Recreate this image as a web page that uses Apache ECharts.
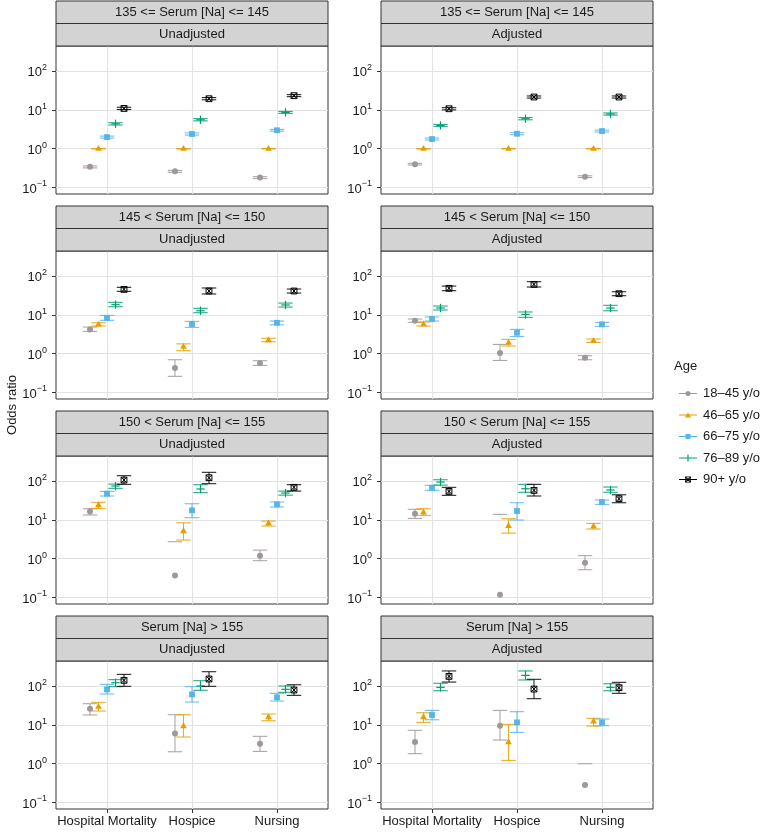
<!DOCTYPE html>
<html>
<head>
<meta charset="utf-8">
<script src="https://cdn.jsdelivr.net/npm/echarts@6/dist/echarts.min.js"></script>
<style>
html, body { margin: 0; padding: 0; background: #fff; }
#chart { width: 761px; height: 832px; }
</style>
</head>
<body>
<div id="chart"></div>
<script>
const categories = ['Hospital Mortality', 'Hospice', 'Nursing']
const ageGroups = ['18–45 y/o', '46–65 y/o', '66–75 y/o', '76–89 y/o', '90+ y/o']
const sodiumBands = ['135 <= Serum [Na] <= 145', '145 < Serum [Na] <= 150', '150 < Serum [Na] <= 155', 'Serum [Na] > 155']
const models = ['Unadjusted', 'Adjusted']
const yTickExponents = [-1, 0, 1, 2]

// one row per age group, one [OR, lower, upper] per outcome (null = not shown)
const na135Unadj = [
    [[0.34, 0.32, 0.36], [0.26, 0.245, 0.275], [0.18, 0.17, 0.19]],
    [[1, 1, 1], [1, 1, 1], [1, 1, 1]],
    [[2.0, 1.88, 2.12], [2.4, 2.25, 2.56], [3.0, 2.85, 3.16]],
    [[4.4, 4.1, 4.7], [5.6, 5.25, 6.0], [8.7, 8.2, 9.2]],
    [[11.0, 10.3, 11.8], [19.6, 18.4, 21.0], [23.5, 22.2, 25.0]]
]
const na135Adj = [
    [[0.40, 0.38, 0.42], null, [0.19, 0.18, 0.20]],
    [[1, 1, 1], [1, 1, 1], [1, 1, 1]],
    [[1.78, 1.68, 1.89], [2.44, 2.3, 2.6], [2.86, 2.7, 3.03]],
    [[4.0, 3.78, 4.25], [5.97, 5.6, 6.4], [7.9, 7.4, 8.4]],
    [[10.8, 10.1, 11.5], [21.7, 20.4, 23.1], [21.7, 20.4, 23.1]]
]
const na150Unadj = [
    [[4.26, 3.78, 4.9], [0.43, 0.26, 0.70], [0.57, 0.50, 0.66]],
    [[5.7, 5.2, 6.3], [1.52, 1.2, 1.8], [2.26, 2.04, 2.5]],
    [[8.4, 7.3, 9.8], [5.85, 4.8, 6.85], [6.3, 5.6, 7.0]],
    [[18.5, 16.4, 21.3], [12.9, 11.5, 14.9], [18.2, 16.1, 20.4]],
    [[46, 41, 52], [41.8, 35, 50], [41.8, 37, 47]]
]
const na150Adj = [
    [[7.1, 6.5, 7.9], [1.04, 0.67, 1.74], [0.79, 0.70, 0.89]],
    [[5.85, 5.2, 6.6], [1.92, 1.58, 2.35], [2.17, 1.96, 2.4]],
    [[7.9, 7.0, 8.9], [3.49, 2.8, 4.26], [5.74, 5.1, 6.46]],
    [[15.2, 13.5, 17.1], [10.4, 8.7, 12.0], [15.2, 12.9, 17.8]],
    [[49, 42.6, 56], [62, 53, 72.8], [35.6, 31.6, 40]]
]
const na155Unadj = [
    [[16.7, 13.5, 19.6], [0.37, null, 2.75], [1.2, 0.89, 1.67]],
    [[24.4, 20, 28.7], [5.2, 3.04, 8.5], [8.2, 7.0, 9.4]],
    [[48, 41.8, 55], [17.8, 11.5, 26.4], [25.4, 21.7, 29.2]],
    [[75.7, 66, 85], [63.4, 51, 82], [49.9, 44, 56]],
    [[108, 83.6, 140], [124, 87, 171], [70, 56, 82]]
]
const na155Adj = [
    [[14.6, 11.0, 18.9], [0.117, null, 14.0], [0.79, 0.52, 1.2]],
    [[15.8, 13.2, 19.6], [7.1, 4.6, 10.8], [6.86, 5.85, 8.2]],
    [[68.5, 58.5, 78.8], [17.1, 10, 28], [29.2, 25.4, 32.9]],
    [[96, 80, 110], [64.5, 52, 83.6], [59.7, 52, 71.3]],
    [[55, 43.5, 70], [58.5, 41.8, 83.6], [35.6, 28, 45]]
]
const naOver155Unadj = [
    [[26.4, 18.2, 35.6], [6.0, 2.04, 18.5], [3.29, 2.08, 5.1]],
    [[29.8, 23, 38.6], [9.4, 4.9, 18.5], [16.1, 12.9, 19.2]],
    [[83.6, 63.4, 112.6], [62, 39.4, 98], [52, 41.8, 66]],
    [[124, 98, 149], [102, 79, 140], [83.6, 70, 102]],
    [[143, 100, 204], [155, 100, 239], [80.4, 58.5, 110]]
]
const naOver155Adj = [
    [[3.63, 1.82, 7.3], [9.6, 4.1, 23.9], [0.28, null, 1.0]],
    [[16.1, 11.7, 20.8], [3.63, 1.22, 10.4], [12.4, 9.4, 14.9]],
    [[18.2, 13.7, 23.9], [11.7, 6.46, 22.1], [11.7, 9.6, 14.3]],
    [[94, 77, 120], [192, 146, 250], [94, 77, 117]],
    [[181, 129, 250], [85, 48, 152], [92.4, 66, 127]]
]

const panelData = [
    na135Unadj, na135Adj,
    na150Unadj, na150Adj,
    na155Unadj, na155Adj,
    naOver155Unadj, naOver155Adj
]

const colors = ['#A09898', '#E69F00', '#56B4E9', '#009E73', '#000000']
const dodge = [-0.2, -0.1, 0, 0.1, 0.2]
const font = '"Liberation Sans", Arial, sans-serif'

const colLeft = [56, 381]
const rowTop = [46, 251, 456, 661]
const panelW = 272
const panelH = 148
const stripH = 22.5

const legendIcons = [
    'path://M0,3H18V4H0Z M6.5,3.5A2.5,2.5 0 1 1 11.5,3.5A2.5,2.5 0 1 1 6.5,3.5Z',
    'path://M0,3.2H18V4.2H0Z M6,6.2L9,1L12,6.2Z',
    'path://M0,3H18V4H0Z M6.5,1H11.5V6H6.5Z',
    'path://M0,3H18V4H0Z M8.4,0H9.6V7H8.4Z',
    'path://M0,3H18V4H0Z M6,0.5H12V6.5H6Z M6.8,1.3V5.7H11.2V1.3Z M6.8,1.3L7.5,1.3L11.2,5L11.2,5.7L10.5,5.7L6.8,2Z M11.2,1.3V2L7.5,5.7H6.8V5L10.5,1.3Z'
]

function makeRenderer(shapeIndex) {
    return function (params, api) {
        const x = api.value(0)
        const y = api.value(1)
        const lo = api.value(2)
        const hi = api.value(3)
        const color = api.visual('color')
        const p = api.coord([x, y])
        const half = api.size([0.085, 0])[0]
        const children = []
        const ls = { stroke: color, lineWidth: 1.1, opacity: 0.85, fill: null }
        if (hi != null && !isNaN(hi)) {
            const ph = api.coord([x, hi])
            children.push({ type: 'line', shape: { x1: p[0] - half, y1: ph[1], x2: p[0] + half, y2: ph[1] }, style: ls })
            if (lo != null && !isNaN(lo)) {
                const pl = api.coord([x, lo])
                children.push({ type: 'line', shape: { x1: p[0], y1: ph[1], x2: p[0], y2: pl[1] }, style: ls })
                children.push({ type: 'line', shape: { x1: p[0] - half, y1: pl[1], x2: p[0] + half, y2: pl[1] }, style: ls })
            }
        }
        const cx = p[0]
        const cy = p[1]
        if (shapeIndex === 0) {
            children.push({ type: 'circle', shape: { cx: cx, cy: cy, r: 3 }, style: { fill: color } })
        } else if (shapeIndex === 1) {
            children.push({ type: 'polygon', shape: { points: [[cx, cy - 3.8], [cx + 3.4, cy + 2.1], [cx - 3.4, cy + 2.1]] }, style: { fill: color } })
        } else if (shapeIndex === 2) {
            children.push({ type: 'rect', shape: { x: cx - 2.9, y: cy - 2.9, width: 5.8, height: 5.8 }, style: { fill: color } })
        } else if (shapeIndex === 3) {
            const st = { stroke: color, lineWidth: 1.2 }
            children.push({ type: 'line', shape: { x1: cx - 4.2, y1: cy, x2: cx + 4.2, y2: cy }, style: st })
            children.push({ type: 'line', shape: { x1: cx, y1: cy - 4.2, x2: cx, y2: cy + 4.2 }, style: st })
        } else {
            const st = { stroke: color, lineWidth: 1, fill: null }
            children.push({ type: 'rect', shape: { x: cx - 2.9, y: cy - 2.9, width: 5.8, height: 5.8 }, style: st })
            children.push({ type: 'line', shape: { x1: cx - 2.9, y1: cy - 2.9, x2: cx + 2.9, y2: cy + 2.9 }, style: st })
            children.push({ type: 'line', shape: { x1: cx + 2.9, y1: cy - 2.9, x2: cx - 2.9, y2: cy + 2.9 }, style: st })
        }
        return { type: 'group', children: children }
    }
}

function expLabel(v) {
    if (Math.abs(v - Math.round(v)) > 1e-6) return ''
    const e = Math.round(v)
    return '{b|10}{s|' + (e < 0 ? '−' + (-e) : e) + '}'
}

const grids = []
const xAxes = []
const yAxes = []
const series = []
const graphics = []

panelData.forEach(function (rows, k) {
    const row = Math.floor(k / 2)
    const col = k % 2
    const left = colLeft[col]
    const top = rowTop[row]
    const isBottom = row === 3

    grids.push({
        left: left, top: top, width: panelW, height: panelH,
        show: true, borderColor: '#333', borderWidth: 1, backgroundColor: '#fff'
    })
    xAxes.push({
        type: 'value', gridIndex: k, min: 0.4, max: 3.6,
        minInterval: 1, maxInterval: 1,
        position: 'bottom',
        axisLine: { show: false, onZero: false },
        axisTick: { show: isBottom, length: 4, lineStyle: { color: '#333' }, customValues: [1, 2, 3] },
        axisLabel: {
            show: isBottom, margin: 6, fontSize: 13, color: '#1a1a1a', fontFamily: font,
            customValues: [1, 2, 3],
            formatter: function (v) {
                return Math.abs(v - Math.round(v)) < 1e-6 ? (categories[Math.round(v) - 1] || '') : ''
            }
        },
        splitLine: { show: true, lineStyle: { color: '#e3e3e3', width: 1.2 } }
    })
    yAxes.push({
        type: 'value', gridIndex: k, min: -1.17, max: 2.655,
        minInterval: 1, maxInterval: 1,
        position: 'left',
        axisLine: { show: false, onZero: false },
        axisTick: { show: true, length: 4, lineStyle: { color: '#333' }, customValues: yTickExponents },
        axisLabel: {
            margin: 9, color: '#1a1a1a', fontFamily: font,
            customValues: yTickExponents,
            formatter: expLabel,
            rich: {
                b: { fontSize: 13, lineHeight: 16, verticalAlign: 'bottom', color: '#1a1a1a', fontFamily: font },
                s: { fontSize: 9, lineHeight: 8, verticalAlign: 'top', color: '#1a1a1a', fontFamily: font }
            }
        },
        splitLine: { show: true, lineStyle: { color: '#e3e3e3', width: 1.2 } }
    })

    rows.forEach(function (cells, a) {
        const data = []
        cells.forEach(function (c, i) {
            if (!c) return
            data.push([
                i + 1 + dodge[a],
                Math.log10(c[0]),
                c[1] == null ? null : Math.log10(c[1]),
                c[2] == null ? null : Math.log10(c[2])
            ])
        })
        series.push({
            type: 'custom',
            name: ageGroups[a],
            xAxisIndex: k,
            yAxisIndex: k,
            itemStyle: { color: colors[a] },
            encode: { x: 0, y: 1 },
            renderItem: makeRenderer(a),
            data: data,
            z: 3 + a
        })
    })

    // facet strips
    const labels = [sodiumBands[row], models[col]]
    labels.forEach(function (txt, j) {
        const y0 = top - stripH * (2 - j)
        graphics.push({
            type: 'rect',
            shape: { x: left, y: y0, width: panelW, height: stripH },
            style: { fill: '#d3d3d3', stroke: '#333', lineWidth: 1 },
            z: 10
        })
        graphics.push({
            type: 'text',
            x: left + panelW / 2,
            y: y0 + stripH / 2,
            style: {
                text: txt, fontSize: 13, fontFamily: font, fill: '#1a1a1a',
                align: 'center', verticalAlign: 'middle',
                textAlign: 'center', textVerticalAlign: 'middle'
            },
            z: 11
        })
    })
})

graphics.push({
    type: 'text', x: 12, y: 405, rotation: Math.PI / 2,
    style: {
        text: 'Odds ratio', fontSize: 13, fontFamily: font, fill: '#1a1a1a',
        align: 'center', verticalAlign: 'middle', textAlign: 'center', textVerticalAlign: 'middle'
    }
})
graphics.push({
    type: 'text', x: 674, y: 366,
    style: {
        text: 'Age', fontSize: 13, fontFamily: font, fill: '#1a1a1a',
        align: 'left', verticalAlign: 'middle', textAlign: 'left', textVerticalAlign: 'middle'
    }
})

const chartInstance = echarts.init(document.getElementById('chart'), null, { renderer: 'canvas' })
chartInstance.setOption({
    animation: false,
    backgroundColor: '#fff',
    grid: grids,
    xAxis: xAxes,
    yAxis: yAxes,
    legend: {
        orient: 'vertical',
        left: 674,
        top: 382,
        itemWidth: 18,
        itemHeight: 7,
        itemGap: 8.5,
        selectedMode: false,
        textStyle: { fontSize: 13, color: '#1a1a1a', fontFamily: font, padding: [0, 0, 0, 1] },
        data: ageGroups.map(function (n, i) {
            return { name: n, icon: legendIcons[i] }
        })
    },
    graphic: graphics,
    series: series
})
</script>
</body>
</html>
